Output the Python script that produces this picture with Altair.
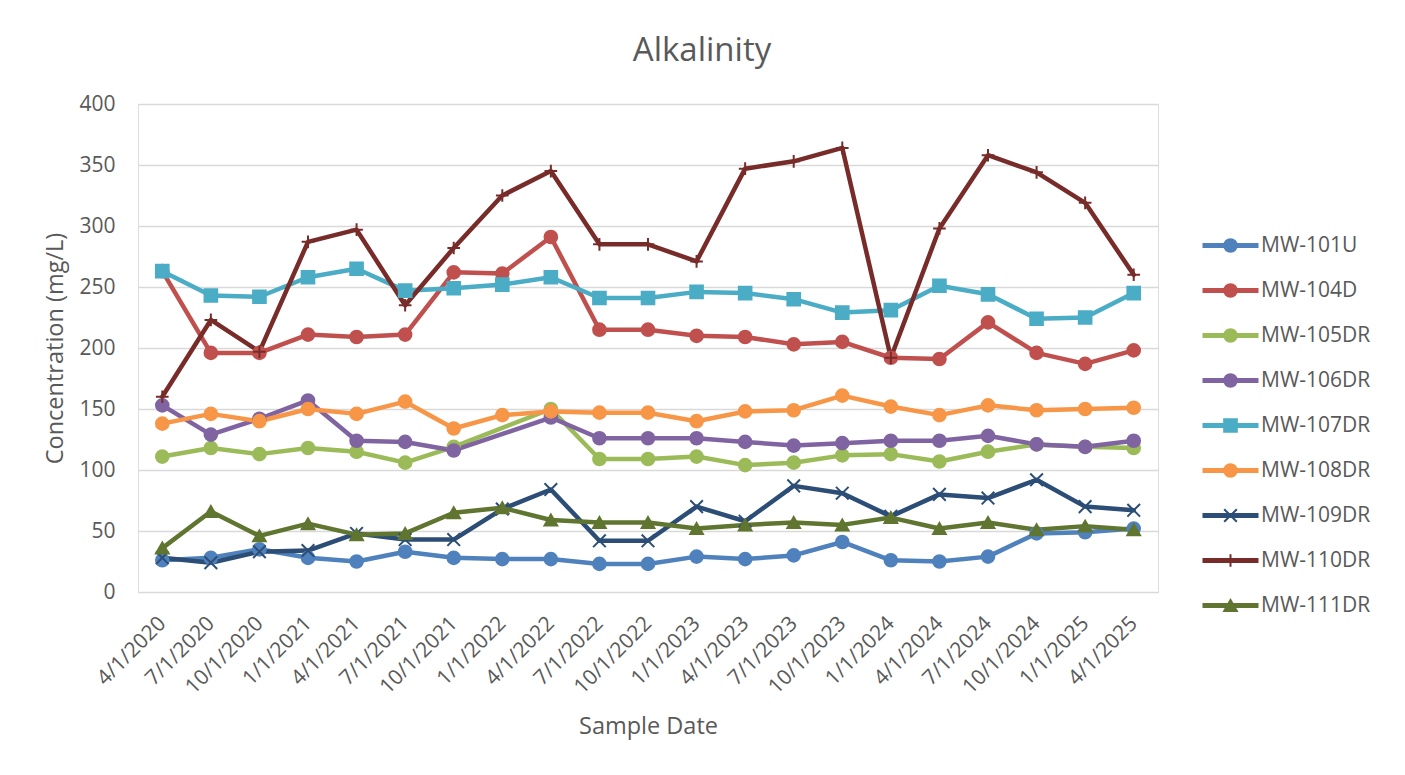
import altair as alt
import pandas as pd

dates = ["4/1/2020", "7/1/2020", "10/1/2020", "1/1/2021", "4/1/2021", "7/1/2021",
         "10/1/2021", "1/1/2022", "4/1/2022", "7/1/2022", "10/1/2022", "1/1/2023",
         "4/1/2023", "7/1/2023", "10/1/2023", "1/1/2024", "4/1/2024", "7/1/2024",
         "10/1/2024", "1/1/2025", "4/1/2025"]

mw101u = [26, 28, 35, 28, 25, 33, 28, 27, 27, 23, 23, 29, 27, 30, 41, 26, 25, 29, 48, 49, 52]
mw104d = [263, 196, 196, 211, 209, 211, 262, 261, 291, 215, 215, 210, 209, 203, 205, 192, 191, 221, 196, 187, 198]
mw105dr = [111, 118, 113, 118, 115, 106, 119, None, 150, 109, 109, 111, 104, 106, 112, 113, 107, 115, 121, 119, 118]
mw106dr = [153, 129, 142, 157, 124, 123, 116, None, 143, 126, 126, 126, 123, 120, 122, 124, 124, 128, 121, 119, 124]
mw107dr = [263, 243, 242, 258, 265, 247, 249, 252, 258, 241, 241, 246, 245, 240, 229, 231, 251, 244, 224, 225, 245]
mw108dr = [138, 146, 140, 150, 146, 156, 134, 145, 148, 147, 147, 140, 148, 149, 161, 152, 145, 153, 149, 150, 151]
mw109dr = [28, 24, 33, 34, 48, 43, 43, 68, 84, 42, 42, 70, 58, 87, 81, 62, 80, 77, 92, 70, 67]
mw110dr = [160, 223, 197, 287, 297, 235, 282, 325, 345, 285, 285, 271, 347, 353, 364, 192, 298, 358, 344, 319, 260]
mw111dr = [36, 66, 46, 56, 47, 48, 65, 69, 59, 57, 57, 52, 55, 57, 55, 61, 52, 57, 51, 54, 51]

series_names = ["MW-101U", "MW-104D", "MW-105DR", "MW-106DR", "MW-107DR",
                "MW-108DR", "MW-109DR", "MW-110DR", "MW-111DR"]
series_values = [mw101u, mw104d, mw105dr, mw106dr, mw107dr, mw108dr, mw109dr, mw110dr, mw111dr]
colors = ["#4F81BD", "#C0504D", "#9BBB59", "#8064A2", "#4BACC6",
          "#F79646", "#2C4D75", "#772C2A", "#5F7530"]
X_PATH = "M-1,-1L1,1M-1,1L1,-1"
PLUS_PATH = "M-1,0L1,0M0,-1L0,1"
shapes = ["circle", "circle", "circle", "circle", "square",
          "circle", X_PATH, PLUS_PATH, "triangle-up"]
sizes = [160, 160, 160, 160, 324, 160, 290, 400, 300]

rows = []
for name, vals in zip(series_names, series_values):
    for d, v in zip(dates, vals):
        if v is not None:
            rows.append({"date": d, "series": name, "value": v})
df = pd.DataFrame(rows)

FONT = "Open Sans"
GREY = "#595959"
LEG_Y = 131

# legend with the long line segments and the visible labels
legend_lines = alt.Legend(title=None, orient="none", legendX=1082, legendY=LEG_Y, padding=0,
                          symbolType="M-4,0L4,0", symbolSize=196, symbolStrokeWidth=5,
                          labelFontSize=21, labelColor=GREY, labelFont=FONT,
                          rowPadding=23, labelOffset=20)
# legend with the markers, laid over the line segments (labels hidden)
legend_marks = alt.Legend(title=None, orient="none", legendX=1082, legendY=LEG_Y, padding=0,
                          symbolSize=180, symbolStrokeWidth=2,
                          labelFontSize=21, labelColor="transparent", labelFont=FONT,
                          rowPadding=23, labelOffset=20)

xenc = alt.X("date:N", sort=dates, scale=alt.Scale(type="point", padding=0.5),
             axis=alt.Axis(labelAngle=-45, labelBaseline="middle", labelFontSize=21,
                           labelColor=GREY, labelFont=FONT,
                           domain=False, ticks=False, labelPadding=28,
                           title="Sample Date", titleFontSize=23.5, titleFont=FONT,
                           titleFontWeight="normal", titleColor=GREY, titlePadding=17))
yenc = alt.Y("value:Q", scale=alt.Scale(domain=[0, 400], nice=False),
             axis=alt.Axis(values=list(range(0, 401, 50)), grid=True, gridColor="#D9D9D9",
                           gridWidth=1.4, domain=False, ticks=False, labelFontSize=21,
                           labelColor=GREY, labelFont=FONT, labelPadding=23,
                           title="Concentration (mg/L)", titleFontSize=23.5, titleFont=FONT,
                           titleFontWeight="normal", titleColor=GREY, titlePadding=11))

base = alt.Chart(df)

lines = base.mark_line(strokeWidth=4.5, strokeJoin="round", strokeCap="round").encode(
    x=xenc, y=yenc,
    color=alt.Color("series:N", scale=alt.Scale(domain=series_names, range=colors),
                    legend=legend_lines),
)

points = base.mark_point(filled=True, strokeWidth=2, opacity=1).encode(
    x=xenc, y=yenc,
    color=alt.Color("series:N", scale=alt.Scale(domain=series_names, range=colors),
                    legend=legend_marks),
    stroke=alt.Stroke("series:N", scale=alt.Scale(domain=series_names, range=colors),
                      legend=legend_marks),
    shape=alt.Shape("series:N", scale=alt.Scale(domain=series_names, range=shapes),
                    legend=legend_marks),
    size=alt.Size("series:O", scale=alt.Scale(domain=series_names, range=sizes), legend=None),
)

chart = alt.layer(lines, points).resolve_scale(
    color="independent", stroke="independent", shape="independent", size="independent"
).resolve_legend(
    color="independent", stroke="independent", shape="independent", size="independent"
).properties(
    width=1020, height=488,
    title=alt.TitleParams("Alkalinity", fontSize=33, font=FONT, fontWeight="normal",
                          color=GREY, dx=54, offset=25, anchor="middle"),
    autosize=alt.AutoSizeParams(type="none"),
    padding={"left": 130, "top": 96, "right": 239, "bottom": 171},
).configure_view(stroke=None).configure(background="white")

chart.save("out.html", embed_options={"renderer": "svg", "actions": False})
